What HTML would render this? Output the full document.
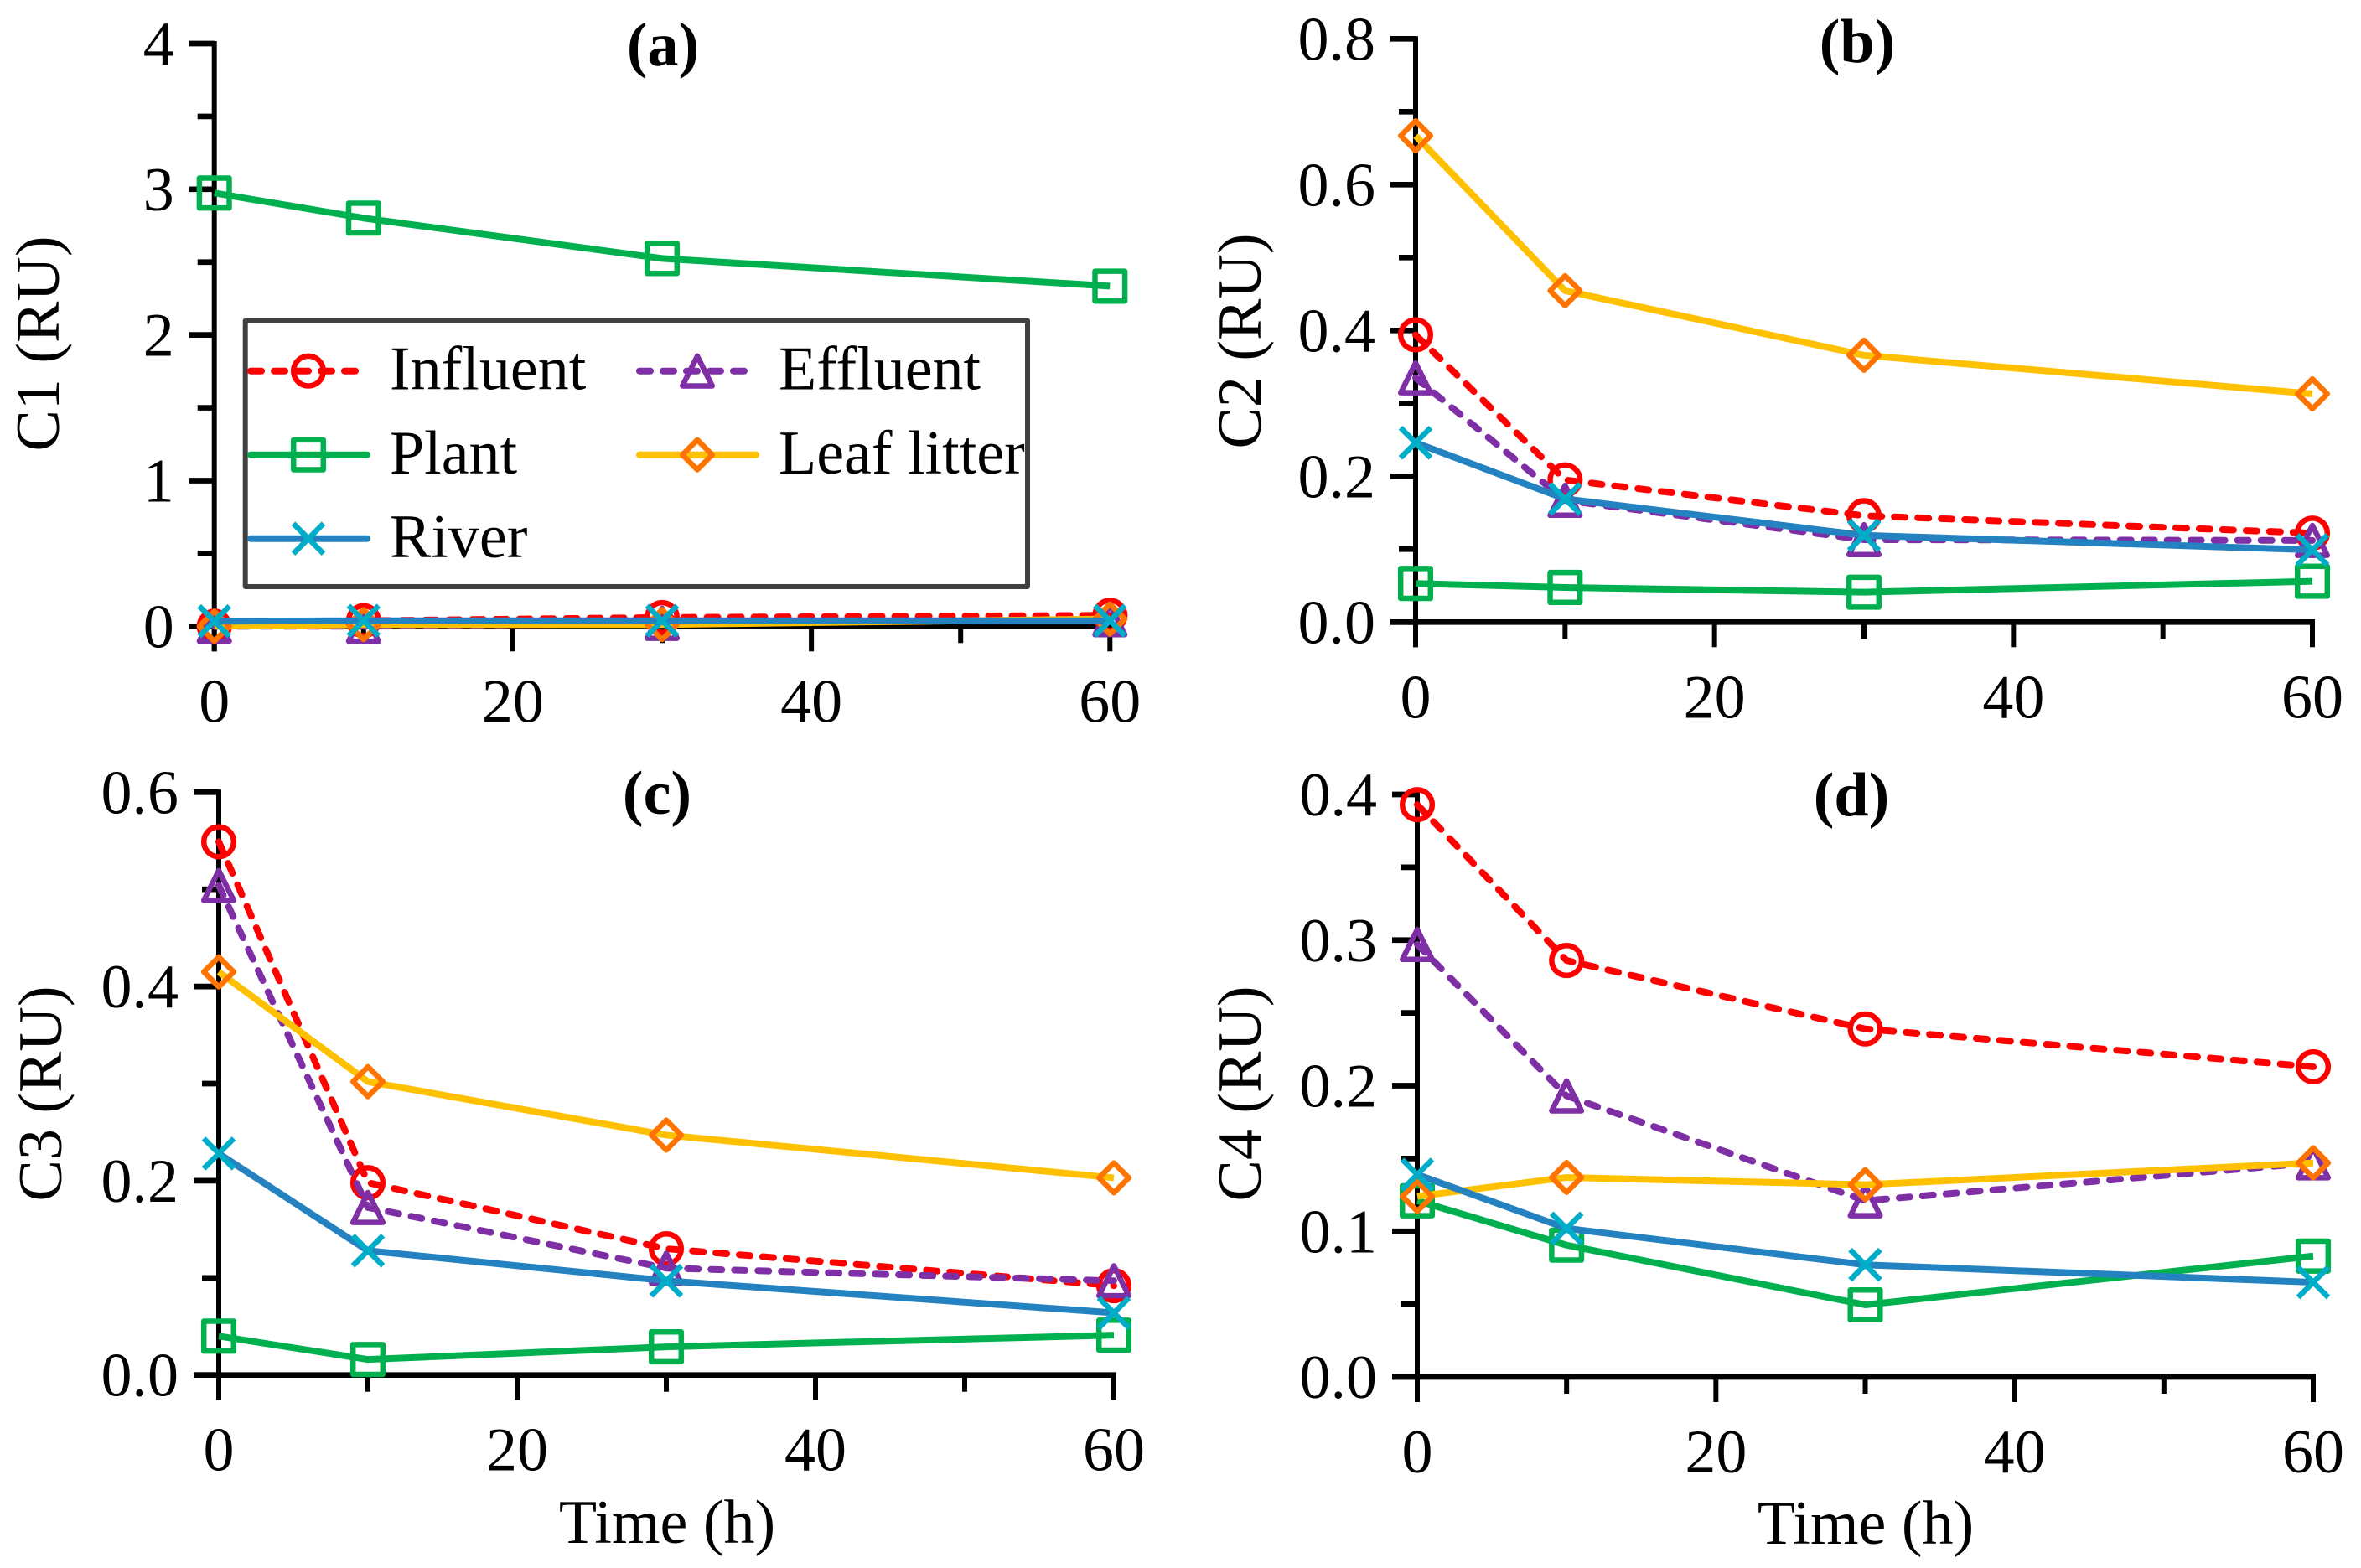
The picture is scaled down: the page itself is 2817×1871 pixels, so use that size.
<!DOCTYPE html>
<html lang="en">
<head>
<meta charset="utf-8">
<title>C1-C4 fluorescence components over time</title>
<style>
html,body{margin:0;padding:0;background:#fff;}
svg{display:block;}
text{font-family:"Liberation Serif","Times New Roman",serif;font-size:74px;fill:#000;}
.bold{font-weight:bold;}
</style>
</head>
<body>
<svg id="figure" xmlns="http://www.w3.org/2000/svg" width="2817" height="1871" viewBox="0 0 2817 1871">
  <g id="axes-layer"></g>
  <g>
    <text class="bold" x="791" y="78" text-anchor="middle">(a)</text>
    <text class="bold" x="2216" y="74" text-anchor="middle">(b)</text>
    <text class="bold" x="784" y="971" text-anchor="middle">(c)</text>
    <text class="bold" x="2209" y="973" text-anchor="middle">(d)</text>
  </g>
  <g>
    <text text-anchor="middle" transform="translate(70,410) rotate(-90)">C1 (RU)</text>
    <text text-anchor="middle" transform="translate(1504,407) rotate(-90)">C2 (RU)</text>
    <text text-anchor="middle" transform="translate(73,1305) rotate(-90)">C3 (RU)</text>
    <text text-anchor="middle" transform="translate(1504,1305) rotate(-90)">C4 (RU)</text>
    <text x="796" y="1841" text-anchor="middle">Time (h)</text>
    <text x="2226" y="1842" text-anchor="middle">Time (h)</text>
  </g>
  <g id="series-layer"></g>
  <g id="legend">
    <rect x="292.7" y="382.7" width="933.3" height="317.3" fill="none" stroke="#404040" stroke-width="6" stroke-linejoin="round"/>
    <text x="465" y="464.5">Influent</text>
    <text x="465" y="565">Plant</text>
    <text x="465" y="665">River</text>
    <text x="929" y="464.5">Effluent</text>
    <text x="929" y="565">Leaf litter</text>
  </g>
</svg>
<script>
// ---- chart data ----
const times = [0, 10, 30, 60];
const xTickValues = [0, 10, 20, 30, 40, 50, 60];
const xTickLabels = ["0", "", "20", "", "40", "", "60"];

const c1TickValues = [0, 0.5, 1, 1.5, 2, 2.5, 3, 3.5, 4];
const c1TickLabels = ["0", "", "1", "", "2", "", "3", "", "4"];
const c2TickValues = [0, 0.1, 0.2, 0.3, 0.4, 0.5, 0.6, 0.7, 0.8];
const c2TickLabels = ["0.0", "", "0.2", "", "0.4", "", "0.6", "", "0.8"];
const c3TickValues = [0, 0.1, 0.2, 0.3, 0.4, 0.5, 0.6];
const c3TickLabels = ["0.0", "", "0.2", "", "0.4", "", "0.6"];
const c4TickValues = [0, 0.05, 0.1, 0.15, 0.2, 0.25, 0.3, 0.35, 0.4];
const c4TickLabels = ["0.0", "", "0.1", "", "0.2", "", "0.3", "", "0.4"];

const c1Influent = [0.0, 0.038, 0.06, 0.075];
const c1Effluent = [0.0, 0.0, 0.02, 0.045];
const c1Plant = [2.974, 2.802, 2.525, 2.335];
const c1Leaf = [0.0, 0.012, 0.012, 0.05];
const c1River = [0.035, 0.038, 0.038, 0.038];

const c2Influent = [0.394, 0.195, 0.146, 0.122];
const c2Effluent = [0.335, 0.167, 0.113, 0.112];
const c2Plant = [0.053, 0.0475, 0.041, 0.056];
const c2Leaf = [0.667, 0.4545, 0.366, 0.313];
const c2River = [0.246, 0.169, 0.119, 0.099];

const c3Influent = [0.549, 0.198, 0.13, 0.092];
const c3Effluent = [0.504, 0.1725, 0.11, 0.097];
const c3Plant = [0.04, 0.016, 0.029, 0.041];
const c3Leaf = [0.415, 0.302, 0.247, 0.203];
const c3River = [0.228, 0.128, 0.097, 0.064];

const c4Influent = [0.393, 0.286, 0.239, 0.213];
const c4Effluent = [0.297, 0.193, 0.121, 0.147];
const c4Plant = [0.121, 0.0905, 0.0495, 0.083];
const c4Leaf = [0.124, 0.137, 0.132, 0.147];
const c4River = [0.139, 0.102, 0.077, 0.065];

// ---- drawing ----
const NS = 'http://www.w3.org/2000/svg';
const styles = {
  influent: {line: '#FF0000', mark: '#FF0000', shape: 'circle', dashed: true},
  effluent: {line: '#7F2FA6', mark: '#7F2FA6', shape: 'triangle', dashed: true},
  plant: {line: '#00B04F', mark: '#00B04F', shape: 'square', dashed: false},
  leaf: {line: '#FFC000', mark: '#FF7300', shape: 'diamond', dashed: false},
  river: {line: '#2582C0', mark: '#00ADC8', shape: 'cross', dashed: false}
};
const drawOrder = ['influent', 'effluent', 'plant', 'leaf', 'river'];

const panels = [
  {id: 'a', x0: 255.7, x60: 1324.3, y0: 747.3, yTop: 52, yMax: 4, ticks: c1TickValues, labels: c1TickLabels,
   series: {influent: c1Influent, effluent: c1Effluent, plant: c1Plant, leaf: c1Leaf, river: c1River}},
  {id: 'b', x0: 1689, x60: 2759, y0: 742.3, yTop: 46.3, yMax: 0.8, ticks: c2TickValues, labels: c2TickLabels,
   series: {influent: c2Influent, effluent: c2Effluent, plant: c2Plant, leaf: c2Leaf, river: c2River}},
  {id: 'c', x0: 261, x60: 1329, y0: 1640.7, yTop: 945.3, yMax: 0.6, ticks: c3TickValues, labels: c3TickLabels,
   series: {influent: c3Influent, effluent: c3Effluent, plant: c3Plant, leaf: c3Leaf, river: c3River}},
  {id: 'd', x0: 1691, x60: 2760, y0: 1643, yTop: 948, yMax: 0.4, ticks: c4TickValues, labels: c4TickLabels,
   series: {influent: c4Influent, effluent: c4Effluent, plant: c4Plant, leaf: c4Leaf, river: c4River}}
];

function mk(tag, attrs, parent) {
  const el = document.createElementNS(NS, tag);
  for (const k in attrs) el.setAttribute(k, attrs[k]);
  parent.appendChild(el);
  return el;
}
function xScale(p, t) { return p.x0 + (t / 60) * (p.x60 - p.x0); }
function yScale(p, v) { return p.y0 - (v / p.yMax) * (p.y0 - p.yTop); }

function drawMarker(parent, kind, cx, cy) {
  const st = styles[kind];
  const base = {fill: 'none', stroke: st.mark, 'stroke-width': 6.5, 'stroke-linejoin': 'round'};
  const r = 17.8;
  let el;
  if (st.shape === 'circle') {
    el = mk('circle', Object.assign({cx: cx, cy: cy, r: r}, base), parent);
  } else if (st.shape === 'square') {
    el = mk('rect', Object.assign({x: cx - r, y: cy - r, width: 2 * r, height: 2 * r}, base), parent);
  } else if (st.shape === 'triangle') {
    const pts = [[cx, cy - r], [cx + r, cy + r], [cx - r, cy + r]].map(a => a.join(',')).join(' ');
    el = mk('polygon', Object.assign({points: pts}, base), parent);
  } else if (st.shape === 'diamond') {
    const pts = [[cx, cy - r], [cx + r, cy], [cx, cy + r], [cx - r, cy]].map(a => a.join(',')).join(' ');
    el = mk('polygon', Object.assign({points: pts}, base), parent);
  } else {
    const a = 18;
    const d = 'M' + (cx - a) + ' ' + (cy - a) + 'L' + (cx + a) + ' ' + (cy + a) +
              'M' + (cx - a) + ' ' + (cy + a) + 'L' + (cx + a) + ' ' + (cy - a);
    el = mk('path', {d: d, fill: 'none', stroke: st.mark, 'stroke-width': 6.5}, parent);
  }
  
  
  return el;
}

const axesLayer = document.getElementById('axes-layer');
const seriesLayer = document.getElementById('series-layer');

panels.forEach(function (p) {
  const ag = mk('g', {}, axesLayer);
  
  

  const yAxis = mk('line', {x1: p.x0, x2: p.x0, y1: p.yTop - 3, y2: p.y0 + 30, stroke: '#000', 'stroke-width': 6}, ag);
  
  

  const xAxis = mk('line', {x1: p.x0 - 30, x2: p.x60 + 3, y1: p.y0, y2: p.y0, stroke: '#000', 'stroke-width': 6.7}, ag);
  
  

  p.ticks.forEach(function (v, i) {
    const y = yScale(p, v);
    const major = p.labels[i] !== '';
    const tick = mk('line', {x1: p.x0 - (major ? 30 : 20), x2: p.x0, y1: y, y2: y, stroke: '#000', 'stroke-width': 6.7}, ag);
    
    
    if (major) {
      const label = mk('text', {x: p.x0 - 48, y: y + 25, 'text-anchor': 'end'}, ag);
      label.textContent = p.labels[i];
      
      
    }
  });

  xTickValues.forEach(function (t, i) {
    const x = xScale(p, t);
    const major = xTickLabels[i] !== '';
    const tick = mk('line', {x1: x, x2: x, y1: p.y0, y2: p.y0 + (major ? 30 : 20), stroke: '#000', 'stroke-width': 6}, ag);
    
    
    if (major) {
      const label = mk('text', {x: x, y: p.y0 + 114, 'text-anchor': 'middle'}, ag);
      label.textContent = xTickLabels[i];
      
      
    }
  });

  drawOrder.forEach(function (kind) {
    const values = p.series[kind];
    const st = styles[kind];
    const g = mk('g', {}, seriesLayer);
    
    
    const pts = values.map(function (v, i) { return xScale(p, times[i]) + ',' + yScale(p, v); }).join(' ');
    const attrs = {points: pts, fill: 'none', stroke: st.line, 'stroke-width': 8, 'stroke-linejoin': 'round'};
    if (st.dashed) {
      attrs['stroke-dasharray'] = '13 15';
      attrs['stroke-linecap'] = 'round';
    }
    const line = mk('polyline', attrs, g);
    
    
    values.forEach(function (v, i) {
      drawMarker(g, kind, xScale(p, times[i]), yScale(p, v));
    });
  });
});

// ---- legend keys ----
const legend = document.getElementById('legend');
function legendKey(kind, x1, x2, xm, y) {
  const st = styles[kind];
  const attrs = {x1: x1, x2: x2, y1: y, y2: y, stroke: st.line, 'stroke-width': 8, 'stroke-linecap': 'round'};
  if (st.dashed) attrs['stroke-dasharray'] = '13 15';
  const line = mk('line', attrs, legend);
  
  
  drawMarker(legend, kind, xm, y);
}
legendKey('influent', 299, 425, 368, 442.7);
legendKey('plant', 299, 438, 368, 542.7);
legendKey('river', 299, 438, 368, 642.7);
legendKey('effluent', 763, 890, 832, 442.7);
legendKey('leaf', 763, 902, 832, 542.7);
</script>
</body>
</html>
